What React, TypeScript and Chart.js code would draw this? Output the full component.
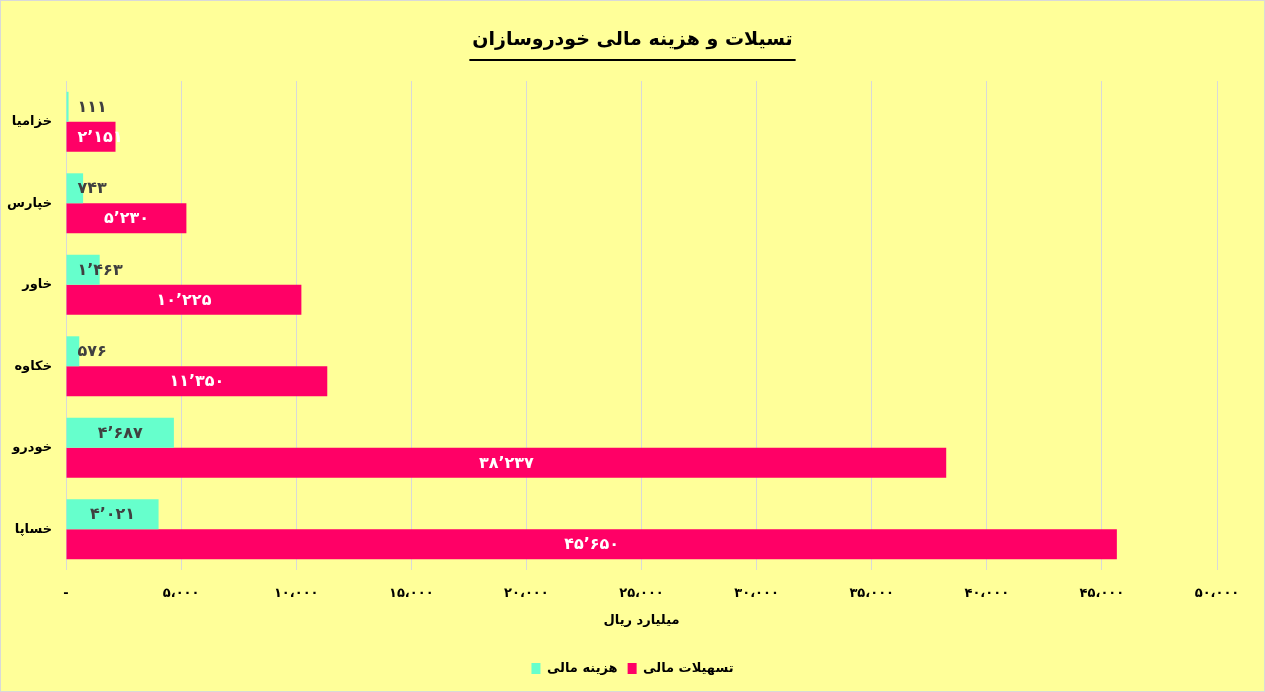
import React, { useRef, useEffect } from 'react';
import Chart from 'chart.js/auto';

const categories = ['خزامیا', 'خپارس', 'خاور', 'خکاوه', 'خودرو', 'خساپا'];
const financeCost = [111, 743, 1463, 576, 4687, 4021];
const facilities = [2151, 5230, 10225, 11350, 38237, 45650];
const seriesNames = ['هزینه مالی', 'تسهیلات مالی'];
const chartTitle = 'تسیلات و هزینه مالی خودروسازان';
const axisTitle = 'میلیارد ریال';
const axisMax = 50000;
const axisStep = 5000;

const FONT = "'DejaVu Sans', sans-serif";
const TITLE_SIZE = 19;
const faDigits = '۰۱۲۳۴۵۶۷۸۹';
const toFa = (n: number, sep: string) =>
    Math.round(n).toLocaleString('en-US').replace(/,/g, sep).replace(/\d/g, d => faDigits[+d]);

const backgroundPlugin = {
    id: 'bg',
    beforeDraw(chart: any) {
        const { ctx, width, height } = chart;
        ctx.save();
        ctx.fillStyle = '#FFFF99';
        ctx.fillRect(0, 0, width, height);
        ctx.strokeStyle = '#D9D9D9';
        ctx.lineWidth = 1;
        ctx.strokeRect(0.5, 0.5, width - 1, height - 1);
        ctx.restore();
    }
};

// underline under the chart title
const underlinePlugin = {
    id: 'underline',
    afterDraw(chart: any) {
        const { ctx } = chart;
        const t = chart.titleBlock;
        if (!t) return;
        ctx.save();
        ctx.font = `bold ${TITLE_SIZE}px ${FONT}`;
        const w = ctx.measureText(chartTitle).width;
        const cx = (t.left + t.right) / 2;
        ctx.strokeStyle = '#000';
        ctx.lineWidth = 2;
        ctx.beginPath();
        ctx.moveTo(cx - w / 2 - 3, 60);
        ctx.lineTo(cx + w / 2 + 3, 60);
        ctx.stroke();
        ctx.restore();
    }
};

const labelColors = ['#404040', '#FFFFFF'];

const barLabelPlugin = {
    id: 'barLabels',
    afterDatasetsDraw(chart: any) {
        const { ctx } = chart;
        ctx.save();
        ctx.font = `bold 16px ${FONT}`;
        ctx.textAlign = 'center';
        ctx.textBaseline = 'middle';
        chart.data.datasets.forEach((ds: any, i: number) => {
            const meta = chart.getDatasetMeta(i);
            ctx.fillStyle = labelColors[i];
            meta.data.forEach((bar: any, j: number) => {
                const text = toFa(ds.data[j], '٬');
                const w = ctx.measureText(text).width;
                const x = Math.max((bar.x + bar.base) / 2, bar.base + 11 + w / 2);
                ctx.fillText(text, x, bar.y + 1);
            });
        });
        ctx.restore();
    }
};

const BarChart: React.FC = () => {
    const ref = useRef<HTMLCanvasElement>(null);

    useEffect(() => {
        let chart: Chart | undefined;
        if (ref.current) {
            Chart.defaults.font.family = FONT;
            chart = new Chart(ref.current, {
                type: 'bar',
                data: {
                    labels: categories,
                    datasets: [
                        {
                            label: seriesNames[0],
                            data: financeCost,
                            backgroundColor: '#66FFCC',
                            barPercentage: 1,
                            categoryPercentage: 0.735
                        },
                        {
                            label: seriesNames[1],
                            data: facilities,
                            backgroundColor: '#FF0066',
                            barPercentage: 1,
                            categoryPercentage: 0.735
                        }
                    ]
                },
                options: {
                    indexAxis: 'y',
                    responsive: false,
                    animation: false,
                    layout: { padding: { top: 0, right: 0, bottom: 7, left: 0 } },
                    scales: {
                        x: {
                            min: 0,
                            max: axisMax,
                            grid: { color: '#D9D9D9', drawTicks: true, tickLength: 8, tickColor: 'rgba(0,0,0,0)' },
                            border: { display: false },
                            ticks: {
                                stepSize: axisStep,
                                padding: 8,
                                color: '#000',
                                font: { size: 13, weight: 'bold' },
                                callback: (v: any) => (v === 0 ? '-' : toFa(Number(v), '،'))
                            },
                            title: {
                                display: true,
                                text: axisTitle,
                                color: '#000',
                                font: { size: 13, weight: 'bold' },
                                padding: { top: 3.6, bottom: 23.2 }
                            }
                        },
                        y: {
                            grid: { display: false, drawTicks: false },
                            border: { display: false },
                            ticks: {
                                padding: 14,
                                color: '#000',
                                font: { size: 13, weight: 'bold' }
                            },
                            afterFit: (scale: any) => {
                                scale.width = 66;
                            }
                        },
                        // empty right-hand strip so the plot ends at 50,000 like the original
                        yRight: {
                            type: 'category',
                            position: 'right',
                            grid: { display: false, drawTicks: false },
                            border: { display: false },
                            ticks: { display: false },
                            afterFit: (scale: any) => {
                                scale.width = 48;
                            }
                        }
                    },
                    plugins: {
                        title: {
                            display: true,
                            text: chartTitle,
                            color: '#000',
                            font: { size: TITLE_SIZE, weight: 'bold' },
                            padding: { top: 28.6, bottom: 29.6 }
                        },
                        legend: {
                            position: 'bottom',
                            labels: {
                                boxWidth: 9,
                                boxHeight: 11,
                                color: '#000',
                                font: { size: 13, weight: 'bold' },
                                padding: 10
                            }
                        },
                        tooltip: { enabled: false }
                    }
                },
                plugins: [backgroundPlugin, underlinePlugin, barLabelPlugin]
            });
        }
        return () => {
            if (chart) chart.destroy();
        };
    }, []);

    return <canvas ref={ref} width={1265} height={692} style={{ display: 'block', width: 1265, height: 692 }}></canvas>;
};

export default function App() {
    return (
        <div style={{ position: 'fixed', left: 0, top: 0, width: 1265, height: 692 }}>
            <BarChart />
        </div>
    );
}
